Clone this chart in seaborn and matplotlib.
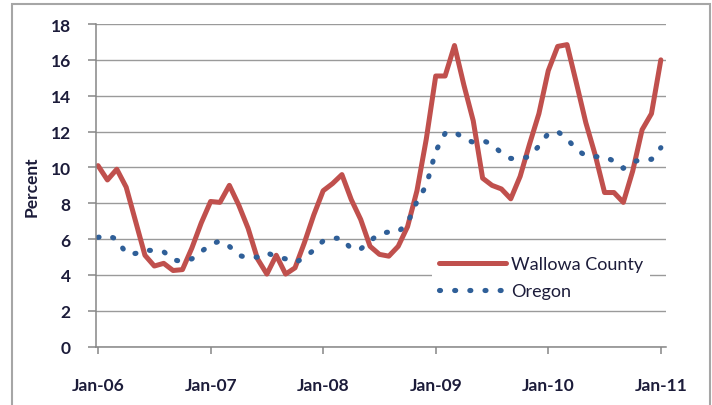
import numpy as np
import pandas as pd
import seaborn as sns
import matplotlib.pyplot as plt
from matplotlib.patches import Rectangle

# monthly unemployment rate, Jan-06 .. Jan-11
wallowa = [10.1, 9.3, 9.9, 8.9, 7.0, 5.1, 4.5, 4.65, 4.25, 4.3, 5.5, 6.9,
           8.1, 8.05, 9.0, 7.9, 6.6, 4.9, 4.05, 5.1, 4.05, 4.4, 5.8, 7.35,
           8.7, 9.1, 9.6, 8.2, 7.1, 5.6, 5.15, 5.05, 5.6, 6.7, 8.7, 11.6,
           15.1, 15.1, 16.8, 14.6, 12.6, 9.4, 9.0, 8.8, 8.25, 9.5, 11.3, 13.0,
           15.4, 16.75, 16.85, 14.7, 12.5, 10.7, 8.6, 8.6, 8.05, 9.8, 12.1, 13.0,
           16.0]
oregon = [6.1, 6.2, 6.0, 5.2, 5.2, 5.4, 5.35, 5.3, 4.85, 4.75, 4.9, 5.3,
          5.7, 5.9, 5.6, 5.1, 4.95, 5.0, 5.25, 5.0, 4.9, 4.7, 4.95, 5.4,
          5.9, 6.05, 6.05, 5.45, 5.45, 5.9, 6.3, 6.4, 6.4, 6.9, 8.1, 9.0,
          10.9, 11.9, 12.0, 11.6, 11.4, 11.5, 11.3, 10.8, 10.5, 10.5, 10.6, 11.2,
          11.9, 12.0, 11.6, 11.0, 10.65, 10.6, 10.6, 10.35, 9.95, 10.3, 10.45, 10.45,
          11.1]
tick_months = [0, 12, 24, 36, 48, 60]
tick_labels = ["Jan-06", "Jan-07", "Jan-08", "Jan-09", "Jan-10", "Jan-11"]

df = pd.DataFrame({"month": np.arange(len(wallowa)),
                   "Wallowa County": wallowa,
                   "Oregon": oregon})

text_col = "#1c1c3a"
grid_col = "#9a9a9a"

sns.set_theme(style="white", rc={
    "axes.edgecolor": "#868686",
    "axes.linewidth": 1.1,
    "grid.color": grid_col,
    "grid.linewidth": 1.0,
    "xtick.color": "#868686",
    "ytick.color": "#868686",
    "xtick.labelcolor": text_col,
    "ytick.labelcolor": text_col,
})
plt.rcParams['font.family'] = ['Lato', 'DejaVu Sans']

fig = plt.figure(figsize=(7.12, 4.06), dpi=100)
ax = fig.add_axes([0.1344, 0.1436, 0.8010, 0.7948])

sns.lineplot(data=df, x="month", y="Wallowa County", color="#c0504d", lw=3.6,
             ax=ax, label="Wallowa County", solid_capstyle="round", solid_joinstyle="round")
sns.lineplot(data=df, x="month", y="Oregon", color="#2f5f98", lw=3.7,
             ax=ax, label="Oregon")
ax.lines[-1].set_linestyle((0, (0.2, 2.75)))
ax.lines[-1].set_dash_capstyle("round")

ax.set_xlim(-0.25, 60.55)
ax.set_ylim(0, 18)
ax.set_yticks(np.arange(0, 19, 2))
ax.set_xticks(tick_months)
ax.set_xticklabels(tick_labels)
ax.yaxis.grid(True)
ax.set_axisbelow(True)
for s in ["top", "right"]:
    ax.spines[s].set_visible(False)

ax.tick_params(axis="y", length=6, width=1.1, pad=12, labelsize=12.5, left=True)
ax.tick_params(axis="x", length=5, width=1.1, pad=17, labelsize=12.5, bottom=True)
for lab in ax.get_xticklabels() + ax.get_yticklabels():
    lab.set_fontweight("bold")

ax.set_xlabel("")
ax.set_ylabel("Percent", fontsize=12.5, fontweight="bold", color=text_col, labelpad=8)

leg = ax.legend(loc="center left", bbox_to_anchor=(0.589, 0.214), fontsize=13,
                frameon=True, facecolor="white", edgecolor="none", framealpha=1,
                handlelength=3.7, handletextpad=0.3, labelspacing=0.6,
                borderpad=0.4, borderaxespad=0, labelcolor=text_col)

fig.patches.append(Rectangle((12 / 712, -0.05), 698 / 712, 1.05 - 5 / 406,
                             transform=fig.transFigure, fill=False,
                             edgecolor="#a6a6a6", lw=1.5))

fig.savefig("out.png", dpi=100)
